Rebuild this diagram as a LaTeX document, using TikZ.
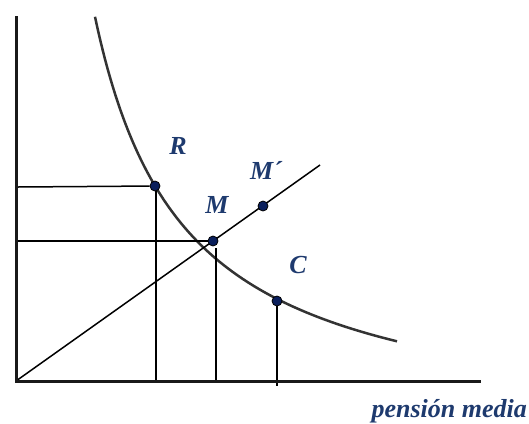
\documentclass[tikz,border=0pt]{standalone}
\usepackage{fontspec}
\setmainfont{Liberation Serif}
\definecolor{navy}{HTML}{1E3A6E}
\definecolor{dotc}{HTML}{0A1F5C}
\begin{document}
\begin{tikzpicture}[x=1pt,y=-1pt,
  axis/.style={line width=3pt,black!90},
  thin/.style={line width=1.5pt,black},
  curve/.style={line width=2.5pt,black!80},
  lbl/.style={text=navy,font=\fontsize{26}{28}\selectfont\bfseries\itshape,inner sep=0pt},
  dot/.style={circle,fill=dotc,draw=black,line width=0.8pt,minimum size=10pt,inner sep=0pt}]
\useasboundingbox[fill=white] (0,0) rectangle (529,423);
\coordinate (top) at (16,16);
\coordinate (O) at (16,381);
\coordinate (xend) at (481,381);
\coordinate (lend) at (320,165);
\coordinate (yR) at (18,187);
\coordinate (yM) at (18,241);
\coordinate (bR) at (156,381);
\coordinate (bM) at (216,381);
\coordinate (bC) at (277,386);
\draw[curve] plot[domain=80:382,samples=120,variable=\u] ({15+\u},{381-(374.52/((\u+9.15)*0.01)-56.1)});
\draw[thin] (O) -- (lend);
\node[dot] (R) at (155,186) {};
\node[dot] (M) at (213,241) {};
\node[dot] (Mp) at (263,206) {};
\node[dot] (C) at (277,301) {};
\draw[thin] (yR) -- (R);
\draw[thin] (yM) -- (M);
\draw[thin] (R.south -| bR) -- (bR);
\draw[thin] ([yshift=-2pt]M.south -| bM) -- (bM);
\draw[thin] (C.south) -- (bC);
\draw[axis] (top) -- (O) -- (xend);
\node[lbl] (lR) at (178,146) {R};
\node[lbl] (lMp) at (266,170) {M´};
\node[lbl] (lM) at (217,205) {M};
\node[lbl] (lC) at (298,265) {C};
\node[lbl,anchor=east] (lx) at (527,411) {pensión media};
\end{tikzpicture}
\end{document}
